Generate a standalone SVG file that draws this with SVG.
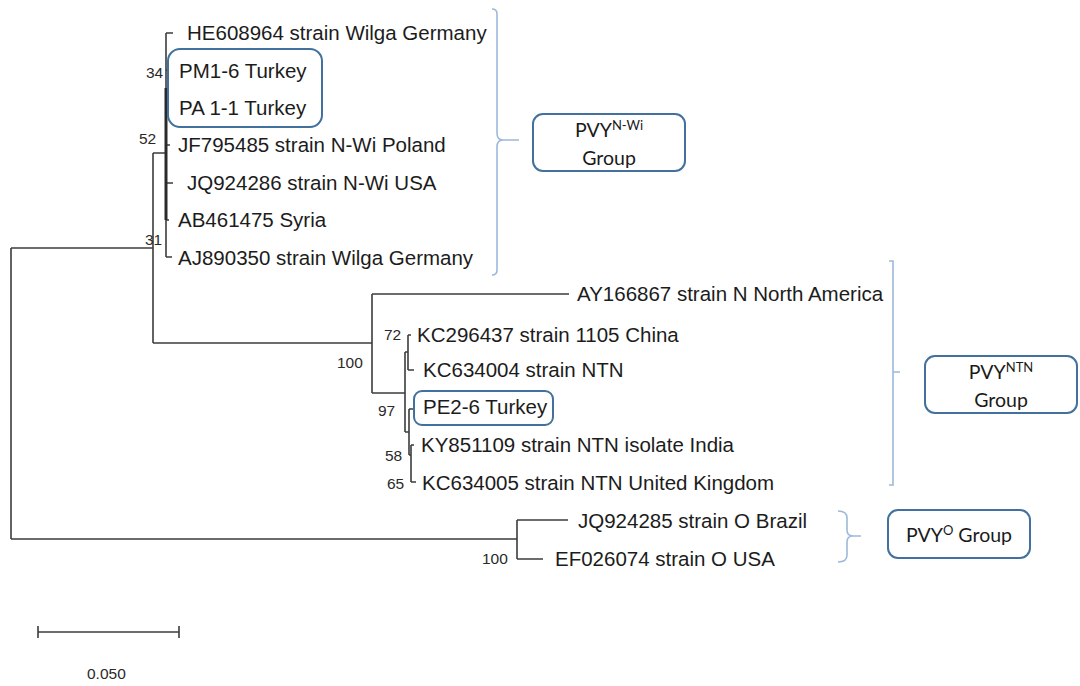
<svg xmlns="http://www.w3.org/2000/svg" width="1080" height="686" viewBox="0 0 1080 686">
<style>
.leaf{font-family:"Liberation Sans",Arial,sans-serif;font-size:20.5px;fill:#1c1c1c}
.bs{font-family:"Liberation Sans",Arial,sans-serif;font-size:15.5px;fill:#2a2a2a}
.br{fill:none;stroke:#3c3c3c;stroke-width:1.6}
.brace{fill:none;stroke:#9db8da;stroke-width:1.6}
.box{fill:none;stroke:#41719c;stroke-width:2}
.grp{font-family:Lato,"Open Sans",sans-serif;font-size:19.5px;fill:#1a1a1a;text-anchor:middle}
.sup{font-size:13px}
</style>
<rect width="1080" height="686" fill="#ffffff"/>
<g id="connectors">
  <path class="br" d="M11,248 V539 M11,248 H153 M11,539 H517"/>
  <path class="br" d="M153,153 V343 M153,153 H166 M153,343 H372"/>
  <path class="br" d="M166,33 V257 M166,33 H173 M166,70 H169 M166,107 H169 M166,145 H170 M166,183 H173 M166,220 H169 M166,257 H172"/>
  <path d="M166,88 V220" stroke="#2a2a2a" stroke-width="3"/>
  <path class="br" d="M372,294 V393 M372,294 H569 M372,393 H405"/>
  <path class="br" d="M405,352 V432 M405,352 H408 M408,335 V370 M408,335 H411 M408,370 H414"/>
  <path class="br" d="M405,432 H409 M409,409 V455 M409,409 H415 M409,455 H411 M411,445 V482 M411,445 H414 M411,482 H416"/>
  <path class="br" d="M517,520 V559 M517,520 H568 M517,559 H543"/>
  <path class="br" d="M38,632 H179 M38,626 V638 M179,626 V638"/>
  <path class="brace" d="M492,9 Q497,9 497,14 V133 Q497,140 503,140 H519 M503,140 Q497,140 497,147 V270 Q497,275 492,275"/>
  <path class="brace" d="M889,261 H893 V485 H889 M893,372 H900"/>
  <path class="brace" d="M838,511 Q847,511 847,518 V530 Q847,536 853,536 H861 M853,536 Q847,536 847,542 V555 Q847,562 838,562"/>
</g>
<g id="nwi-leaves">
  <text class="leaf" x="187" y="40">HE608964 strain Wilga Germany</text>
  <text class="leaf" x="179" y="78">PM1-6 Turkey</text>
  <text class="leaf" x="179" y="115">PA 1-1 Turkey</text>
  <text class="leaf" x="178" y="152">JF795485 strain N-Wi Poland</text>
  <text class="leaf" x="187" y="190">JQ924286 strain N-Wi USA</text>
  <text class="leaf" x="178" y="227">AB461475 Syria</text>
  <text class="leaf" x="178" y="265">AJ890350 strain Wilga Germany</text>
  <text class="bs" x="146" y="78">34</text>
  <text class="bs" x="139" y="144">52</text>
  <text class="bs" x="145" y="245">31</text>
</g>
<g id="turkey-box-1"><rect class="box" x="168" y="49" width="154" height="78" rx="12"/></g>
<g id="ntn-leaves">
  <text class="leaf" x="577" y="301">AY166867 strain N North America</text>
  <text class="leaf" x="417" y="342">KC296437 strain 1105 China</text>
  <text class="leaf" x="423" y="377">KC634004 strain NTN</text>
  <text class="leaf" x="423" y="414">PE2-6 Turkey</text>
  <text class="leaf" x="421" y="452">KY851109 strain NTN isolate India</text>
  <text class="leaf" x="422" y="490">KC634005 strain NTN United Kingdom</text>
  <text class="bs" x="384" y="340">72</text>
  <text class="bs" x="337" y="368">100</text>
  <text class="bs" x="378" y="416">97</text>
  <text class="bs" x="385" y="461">58</text>
  <text class="bs" x="387" y="489">65</text>
</g>
<g id="turkey-box-2"><rect class="box" x="414" y="391" width="139" height="34" rx="8"/></g>
<g id="o-leaves">
  <text class="leaf" x="578" y="528">JQ924285 strain O Brazil</text>
  <text class="leaf" x="555" y="566">EF026074 strain O USA</text>
  <text class="bs" x="482" y="564">100</text>
</g>
<g id="scale-label"><text class="bs" x="87" y="679" font-size="17">0.050</text></g>
<g id="group-nwi">
  <rect class="box" x="533" y="114" width="152" height="57" rx="10"/>
  <text class="grp" x="609" y="137">PVY<tspan class="sup" dy="-7">N-Wi</tspan></text>
  <text class="grp" x="609" y="165">Group</text>
</g>
<g id="group-ntn">
  <rect class="box" x="925" y="356" width="152" height="57" rx="10"/>
  <text class="grp" x="1001" y="379">PVY<tspan class="sup" dy="-7">NTN</tspan></text>
  <text class="grp" x="1001" y="407">Group</text>
</g>
<g id="group-o">
  <rect class="box" x="888" y="510" width="142" height="48" rx="10"/>
  <text class="grp" x="959" y="542">PVY<tspan class="sup" dy="-7">O</tspan><tspan dy="7"> Group</tspan></text>
</g>
</svg>
